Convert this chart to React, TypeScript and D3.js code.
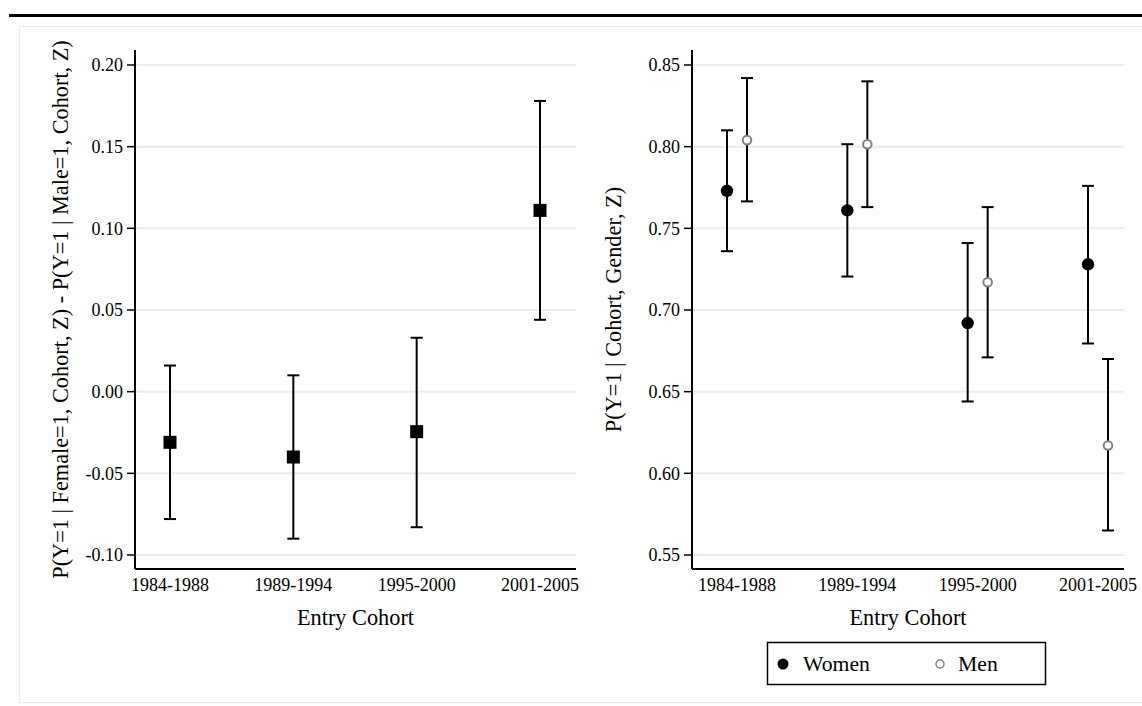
import React, { useEffect, useRef } from "react";
import * as d3 from "d3";

const cohorts = ["1984-1988", "1989-1994", "1995-2000", "2001-2005"];

// left panel: female - male difference
const diffEst = [-0.031, -0.04, -0.0245, 0.111];
const diffLo = [-0.078, -0.09, -0.083, 0.044];
const diffHi = [0.016, 0.01, 0.033, 0.178];
const diffTicks = [-0.1, -0.05, 0, 0.05, 0.1, 0.15, 0.2];

// right panel: predicted probability by gender
const womenEst = [0.773, 0.761, 0.692, 0.728];
const womenLo = [0.736, 0.7205, 0.644, 0.6795];
const womenHi = [0.81, 0.8015, 0.741, 0.776];
const menEst = [0.804, 0.8015, 0.717, 0.617];
const menLo = [0.7665, 0.763, 0.671, 0.565];
const menHi = [0.842, 0.84, 0.763, 0.67];
const probTicks = [0.55, 0.6, 0.65, 0.7, 0.75, 0.8, 0.85];

const FONT = "Liberation Serif, Tinos, DejaVu Serif, serif";
const GRID = "#e6eff0";

function fmt(v: number) {
  return d3.format(".2f")(v).replace("\u2212", "-");
}

export default function App() {
  const ref = useRef<SVGSVGElement>(null);

  useEffect(() => {
    const svg = d3.select(ref.current);
    svg.selectAll("*").remove();
    svg.attr("font-family", FONT);

    // page decoration
    svg.append("line")
      .attr("x1", 9).attr("x2", 1142).attr("y1", 15.5).attr("y2", 15.5)
      .attr("stroke", "#000").attr("stroke-width", 3);
    svg.append("rect")
      .attr("x", 19.5).attr("y", 26.5).attr("width", 1140).attr("height", 676)
      .attr("fill", "none").attr("stroke", "#e8eded").attr("stroke-width", 1);

    const top = 50, bottom = 569;

    function panel(opts: {
      left: number; right: number; domain: [number, number]; ticks: number[];
      xRange: [number, number]; yTitle: string; yTitleX: number;
    }) {
      const g = svg.append("g");
      const y = d3.scaleLinear().domain(opts.domain).range([555, 65]);
      const x = d3.scalePoint<string>().domain(cohorts).range(opts.xRange);

      g.selectAll(".grid").data(opts.ticks).join("line")
        .attr("class", "grid")
        .attr("x1", opts.left).attr("x2", opts.right)
        .attr("y1", (d) => y(d)).attr("y2", (d) => y(d))
        .attr("stroke", GRID).attr("stroke-width", 2);

      g.selectAll(".ytick").data(opts.ticks).join("line")
        .attr("class", "ytick")
        .attr("x1", opts.left - 8).attr("x2", opts.left)
        .attr("y1", (d) => y(d)).attr("y2", (d) => y(d))
        .attr("stroke", "#000").attr("stroke-width", 1.5);

      g.selectAll(".ylab").data(opts.ticks).join("text")
        .attr("class", "ylab")
        .attr("x", opts.left - 12).attr("y", (d) => y(d))
        .attr("dy", "0.35em").attr("text-anchor", "end")
        .attr("font-size", 18)
        .text((d) => fmt(d));

      g.append("line")
        .attr("x1", opts.left).attr("x2", opts.left).attr("y1", top).attr("y2", bottom)
        .attr("stroke", "#000").attr("stroke-width", 2);
      g.append("line")
        .attr("x1", opts.left).attr("x2", opts.right).attr("y1", bottom).attr("y2", bottom)
        .attr("stroke", "#000").attr("stroke-width", 2);

      g.selectAll(".xlab").data(cohorts).join("text")
        .attr("class", "xlab")
        .attr("x", (d) => x(d) as number).attr("y", 591)
        .attr("text-anchor", "middle")
        .attr("font-size", 18)
        .text((d) => d);

      g.append("text")
        .attr("x", (opts.left + opts.right) / 2).attr("y", 625)
        .attr("text-anchor", "middle")
        .attr("font-size", 22.3)
        .text("Entry Cohort");

      g.append("text")
        .attr("transform", `translate(${opts.yTitleX}, ${(top + bottom) / 2}) rotate(-90)`)
        .attr("text-anchor", "middle")
        .attr("font-size", 22.3)
        .text(opts.yTitle);

      return { g, x, y };
    }

    function errorBars(g: any, xs: number[], lo: number[], hi: number[], y: any) {
      const d = xs.map((xv, i) => ({ x: xv, lo: lo[i], hi: hi[i] }));
      g.selectAll(null).data(d).join("line")
        .attr("x1", (e: any) => e.x).attr("x2", (e: any) => e.x)
        .attr("y1", (e: any) => y(e.lo)).attr("y2", (e: any) => y(e.hi))
        .attr("stroke", "#000").attr("stroke-width", 2);
      ["lo", "hi"].forEach((k) => {
        g.selectAll(null).data(d).join("line")
          .attr("x1", (e: any) => e.x - 6).attr("x2", (e: any) => e.x + 6)
          .attr("y1", (e: any) => y(e[k])).attr("y2", (e: any) => y(e[k]))
          .attr("stroke", "#000").attr("stroke-width", 2);
      });
    }

    // left panel
    const L = panel({
      left: 135, right: 576, domain: [-0.1, 0.2], ticks: diffTicks,
      xRange: [170, 540],
      yTitle: "P(Y=1 | Female=1, Cohort, Z) - P(Y=1 | Male=1, Cohort, Z)",
      yTitleX: 68,
    });
    const lx = cohorts.map((c) => L.x(c) as number);
    errorBars(L.g, lx, diffLo, diffHi, L.y);
    L.g.selectAll(".sq").data(diffEst).join("rect")
      .attr("class", "sq")
      .attr("x", (d, i) => lx[i] - 6.5).attr("y", (d) => L.y(d) - 6.5)
      .attr("width", 13).attr("height", 13).attr("fill", "#000");

    // right panel
    const R = panel({
      left: 692, right: 1124, domain: [0.55, 0.85], ticks: probTicks,
      xRange: [737, 1098],
      yTitle: "P(Y=1 | Cohort, Gender, Z)",
      yTitleX: 621,
    });
    const wx = cohorts.map((c) => (R.x(c) as number) - 10);
    const mx = cohorts.map((c) => (R.x(c) as number) + 10);
    errorBars(R.g, wx, womenLo, womenHi, R.y);
    errorBars(R.g, mx, menLo, menHi, R.y);
    R.g.selectAll(".women").data(womenEst).join("circle")
      .attr("class", "women")
      .attr("cx", (d, i) => wx[i]).attr("cy", (d) => R.y(d))
      .attr("r", 6.2).attr("fill", "#000");
    R.g.selectAll(".men").data(menEst).join("circle")
      .attr("class", "men")
      .attr("cx", (d, i) => mx[i]).attr("cy", (d) => R.y(d))
      .attr("r", 4.3).attr("fill", "#fff")
      .attr("stroke", "#808080").attr("stroke-width", 2);

    // legend
    const lg = svg.append("g");
    lg.append("rect")
      .attr("x", 767.5).attr("y", 642.5).attr("width", 278).attr("height", 42)
      .attr("fill", "#fff").attr("stroke", "#000").attr("stroke-width", 1.5);
    lg.append("circle").attr("cx", 783).attr("cy", 664).attr("r", 5.5).attr("fill", "#000");
    lg.append("text").attr("x", 803).attr("y", 671)
      .attr("font-size", 21.7).text("Women");
    lg.append("circle").attr("cx", 940).attr("cy", 664).attr("r", 4)
      .attr("fill", "#fff").attr("stroke", "#808080").attr("stroke-width", 1.5);
    lg.append("text").attr("x", 958).attr("y", 671)
      .attr("font-size", 21.7).text("Men");
  }, []);

  return (
    <svg
      ref={ref}
      width={1142}
      height={706}
      style={{ position: "absolute", left: 0, top: 0, background: "#fff" }}
    />
  );
}
